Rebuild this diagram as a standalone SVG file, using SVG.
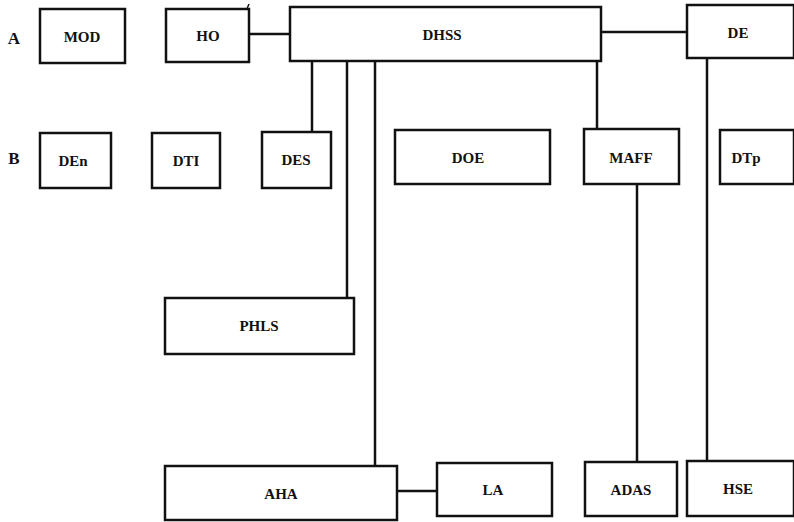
<svg xmlns="http://www.w3.org/2000/svg" width="794" height="522" viewBox="0 0 794 522">
<style>
rect{fill:#fff;stroke:#111;stroke-width:2.5}
line{stroke:#111;stroke-width:2.5}
text{font-family:"Liberation Serif","Times New Roman",serif;font-weight:bold;font-size:15px;fill:#111;text-anchor:middle;dominant-baseline:central}
.lab{font-size:17px}
</style>
<rect width="794" height="522" style="fill:#fff;stroke:none"/>
<text class="lab" x="14" y="38">A</text>
<text class="lab" x="14" y="158">B</text>
<g id="connectors">
<line x1="249" y1="34" x2="290" y2="34"/>
<line x1="601" y1="32" x2="687" y2="32"/>
<line x1="312" y1="61" x2="312" y2="132"/>
<line x1="347" y1="61" x2="347" y2="298"/>
<line x1="375" y1="61" x2="375" y2="466"/>
<line x1="597" y1="61" x2="597" y2="129"/>
<line x1="637" y1="184" x2="637" y2="462"/>
<line x1="707" y1="58" x2="707" y2="461"/>
<line x1="397" y1="491" x2="437" y2="491"/>
</g>
<line x1="246" y1="11" x2="249" y2="4" style="stroke-width:1.5"/>
<g id="MOD"><rect x="40" y="9" width="85" height="54"/><text x="82" y="37">MOD</text></g>
<g id="HO"><rect x="166" y="9" width="83" height="53"/><text x="208" y="36">HO</text></g>
<g id="DHSS"><rect x="290" y="7" width="311" height="54"/><text x="442" y="35">DHSS</text></g>
<g id="DE"><rect x="687" y="5" width="107" height="53"/><text x="738" y="33">DE</text></g>
<g id="DEn"><rect x="40" y="133" width="71" height="55"/><text x="73" y="161">DEn</text></g>
<g id="DTI"><rect x="152" y="133" width="68" height="55"/><text x="186" y="161">DTI</text></g>
<g id="DES"><rect x="262" y="132" width="69" height="56"/><text x="296" y="160">DES</text></g>
<g id="DOE"><rect x="395" y="130" width="155" height="54"/><text x="468" y="158">DOE</text></g>
<g id="MAFF"><rect x="584" y="129" width="95" height="55"/><text x="631" y="158">MAFF</text></g>
<g id="DTp"><rect x="720" y="130" width="74" height="54"/><text x="746" y="158">DTp</text></g>
<g id="PHLS"><rect x="165" y="298" width="189" height="56"/><text x="259" y="326">PHLS</text></g>
<g id="AHA"><rect x="165" y="466" width="232" height="54"/><text x="281" y="494">AHA</text></g>
<g id="LA"><rect x="437" y="463" width="115" height="53"/><text x="493" y="490">LA</text></g>
<g id="ADAS"><rect x="585" y="462" width="92" height="54"/><text x="631" y="490">ADAS</text></g>
<g id="HSE"><rect x="687" y="461" width="107" height="55"/><text x="738" y="489">HSE</text></g>
</svg>
